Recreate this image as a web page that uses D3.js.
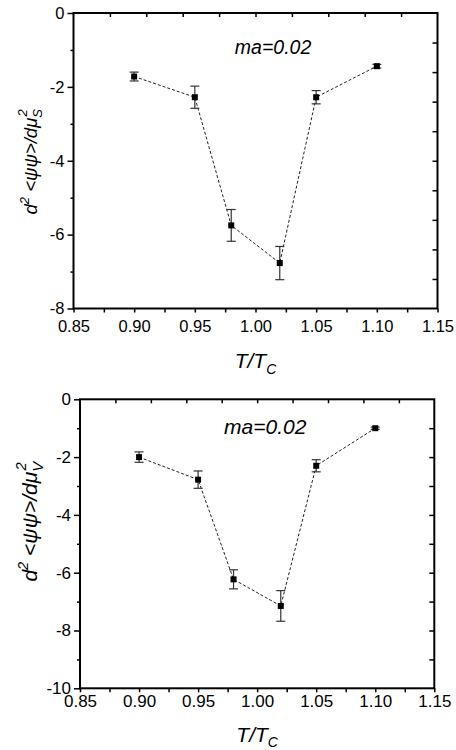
<!DOCTYPE html>
<html>
<head>
<meta charset="utf-8">
<script src="https://cdn.jsdelivr.net/npm/d3@7"></script>
<style>
  body { margin: 0; background: #fff; }
  svg { display: block; font-family: "Liberation Sans", Arial, sans-serif; }
  .tick text { fill: #000; }
</style>
</head>
<body>
<div id="chart"></div>
<script>
// T/Tc values shared by both panels
const temps = [0.90, 0.95, 0.98, 1.02, 1.05, 1.10];

// top panel: d2<psi psi>/dmu_S^2
const chiS = [-1.72, -2.28, -5.75, -6.77, -2.28, -1.44];
const errS = [0.12, 0.30, 0.43, 0.45, 0.18, 0.05];

// bottom panel: d2<psi psi>/dmu_V^2
const chiV = [-2.00, -2.78, -6.23, -7.15, -2.30, -1.00];
const errV = [0.18, 0.30, 0.33, 0.53, 0.21, 0.04];

const xTicks = [0.85, 0.90, 0.95, 1.00, 1.05, 1.10, 1.15];
const yTicksS = [0, -2, -4, -6, -8];
const yTicksV = [0, -2, -4, -6, -8, -10];
const label = "ma=0.02";

const svg = d3.select('#chart').append('svg')
    .attr('width', 456)
    .attr('height', 750);

function drawPanel(cfg) {
  const g = svg.append('g');

  const x = d3.scaleLinear().domain([0.85, 1.15]).range([cfg.left, cfg.right]);
  const y = d3.scaleLinear().domain([0, cfg.yMin]).range([cfg.top, cfg.bottom]);

  // mirror axes (top/right) use their own 10 division scales
  const xm = d3.scaleLinear().domain([0, 10]).range([cfg.left, cfg.right]);
  const ym = d3.scaleLinear().domain([0, 10]).range([cfg.top, cfg.bottom]);

  const data = temps.map((t, i) => ({t: t, v: cfg.vals[i], e: cfg.errs[i]}));

  // bottom axis
  const minorX = d3.range(0, 6).map(i => 0.875 + i * 0.05);
  g.append('g')
      .attr('transform', `translate(0,${cfg.bottom})`)
      .call(d3.axisBottom(x).tickValues(minorX).tickSize(4).tickFormat(''))
      .call(a => a.select('.domain').remove());
  g.append('g')
      .attr('transform', `translate(0,${cfg.bottom})`)
      .call(d3.axisBottom(x).tickValues(xTicks).tickSize(4).tickPadding(cfg.xPad).tickFormat(d3.format('.2f')))
      .call(a => a.select('.domain').remove())
      .call(a => a.selectAll('text').style('font-size', cfg.tickFont + 'px'));

  // left axis
  const minorY = d3.range(-1, cfg.yMin, -2);
  g.append('g')
      .attr('transform', `translate(${cfg.left},0)`)
      .call(d3.axisLeft(y).tickValues(minorY).tickSize(3).tickFormat(''))
      .call(a => a.select('.domain').remove());
  g.append('g')
      .attr('transform', `translate(${cfg.left},0)`)
      .call(d3.axisLeft(y).tickValues(cfg.yTicks).tickSize(6).tickPadding(3).tickFormat(d => String(d)))
      .call(a => a.select('.domain').remove())
      .call(a => a.selectAll('text').style('font-size', cfg.tickFont + 'px'));

  // top + right inward ticks
  g.append('g')
      .attr('transform', `translate(0,${cfg.top})`)
      .call(d3.axisTop(xm).tickValues(d3.range(1, 10)).tickSize(-4).tickFormat(''))
      .call(a => a.select('.domain').remove());
  g.append('g')
      .attr('transform', `translate(${cfg.right},0)`)
      .call(d3.axisRight(ym).tickValues(d3.range(1, 10)).tickSize(-5).tickFormat(''))
      .call(a => a.select('.domain').remove());

  g.selectAll('.tick line').attr('stroke', '#000').attr('stroke-width', 1.5);

  // frame
  g.append('rect')
      .attr('x', cfg.left)
      .attr('y', cfg.top)
      .attr('width', cfg.right - cfg.left)
      .attr('height', cfg.bottom - cfg.top)
      .attr('fill', 'none')
      .attr('stroke', '#000')
      .attr('stroke-width', 2);

  // dashed connecting line
  g.append('path')
      .datum(data)
      .attr('fill', 'none')
      .attr('stroke', '#222')
      .attr('stroke-width', 1)
      .attr('stroke-dasharray', '3,2')
      .attr('d', d3.line().x(d => x(d.t)).y(d => y(d.v)));

  // error bars
  const eb = g.selectAll('.err')
      .data(data)
    .join('g')
      .attr('class', 'err')
      .attr('stroke', '#333')
      .attr('stroke-width', 1.2);
  eb.append('line')
      .attr('x1', d => x(d.t)).attr('x2', d => x(d.t))
      .attr('y1', d => y(d.v + d.e)).attr('y2', d => y(d.v - d.e));
  eb.append('line')
      .attr('x1', d => x(d.t) - 4.5).attr('x2', d => x(d.t) + 4.5)
      .attr('y1', d => y(d.v + d.e)).attr('y2', d => y(d.v + d.e));
  eb.append('line')
      .attr('x1', d => x(d.t) - 4.5).attr('x2', d => x(d.t) + 4.5)
      .attr('y1', d => y(d.v - d.e)).attr('y2', d => y(d.v - d.e));

  // square markers
  g.selectAll('.pt')
      .data(data)
    .join('rect')
      .attr('class', 'pt')
      .attr('x', d => x(d.t) - 3)
      .attr('y', d => y(d.v) - 3)
      .attr('width', 6)
      .attr('height', 6)
      .attr('fill', '#000');

  // annotation
  g.append('text')
      .attr('x', x(cfg.noteX))
      .attr('y', y(cfg.noteY))
      .attr('font-style', 'italic')
      .attr('font-size', cfg.noteFont)
      .text(label);

  // x title T/T_C
  const xt = g.append('text')
      .attr('x', (cfg.left + cfg.right) / 2)
      .attr('y', cfg.xTitleY)
      .attr('text-anchor', 'middle')
      .attr('font-style', 'italic')
      .attr('font-size', 21);
  xt.append('tspan').text('T/T');
  xt.append('tspan').attr('font-size', 14).attr('dy', cfg.subDy).text('C');

  // y title
  const f = cfg.yTitleFont;
  const yt = g.append('text')
      .attr('transform', `translate(${cfg.yTitleX},${(cfg.top + cfg.bottom) / 2 + cfg.yTitleShift}) rotate(-90)`)
      .attr('text-anchor', 'middle')
      .attr('font-style', 'italic')
      .attr('font-size', f);
  yt.append('tspan').text('d');
  yt.append('tspan').attr('font-size', f * 0.7).attr('dy', -f * 0.42).text('2');
  yt.append('tspan').attr('dy', f * 0.42).text(' <ψψ>/dμ');
  yt.append('tspan').attr('font-size', f * 0.7).attr('dy', f * 0.28).text(cfg.sub);
  yt.append('tspan').attr('font-size', f * 0.7).attr('dx', -f * 0.4).attr('dy', -f * 0.8).text('2');
}

drawPanel({
  left: 73.5, right: 437.5, top: 13, bottom: 308.5, yMin: -8,
  vals: chiS, errs: errS, yTicks: yTicksS, tickFont: 16.5, xPad: 8,
  noteX: 0.983, noteY: -1.1, noteFont: 19.5,
  xTitleY: 368, subDy: 6, yTitleX: 37, yTitleShift: 1, yTitleFont: 18.5, sub: 'S'
});

drawPanel({
  left: 80, right: 434.3, top: 399.3, bottom: 688.3, yMin: -10,
  vals: chiV, errs: errV, yTicks: yTicksV, tickFont: 17, xPad: 3,
  noteX: 0.972, noteY: -1.2, noteFont: 21,
  xTitleY: 742, subDy: 5, yTitleX: 37, yTitleShift: -22, yTitleFont: 21, sub: 'V'
});
</script>
</body>
</html>
